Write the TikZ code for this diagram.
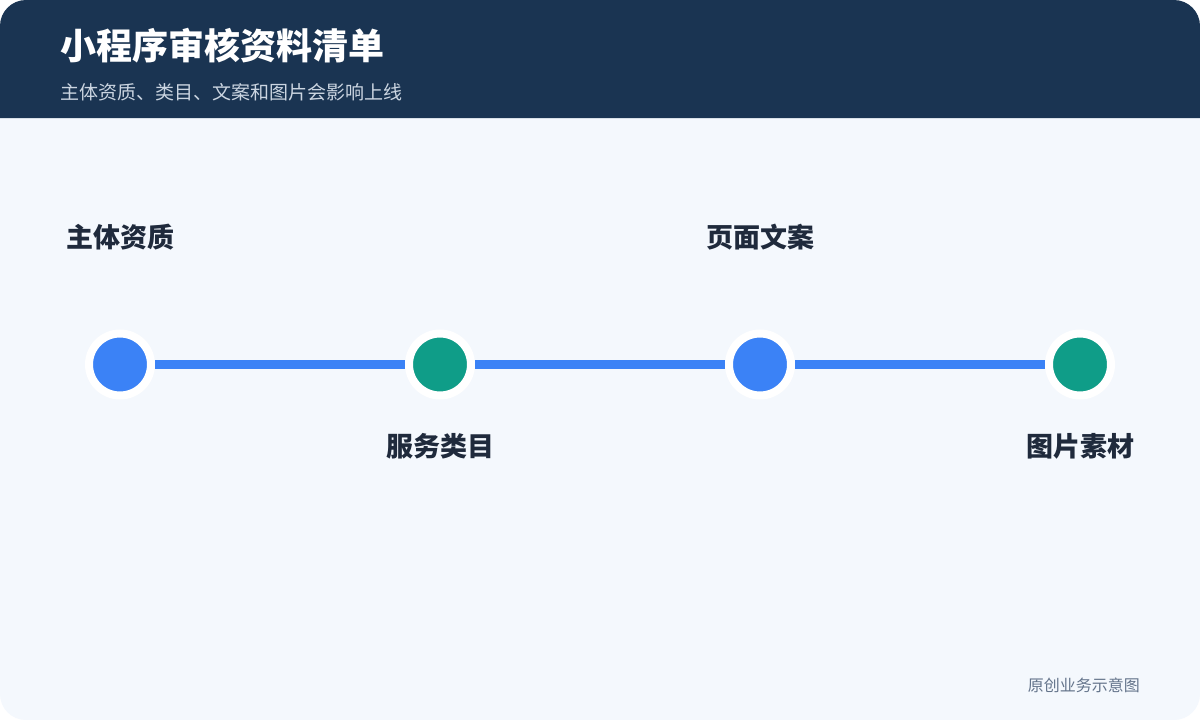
\documentclass[tikz,border=0pt]{standalone}
\usepackage{fontspec}
\setmainfont{Noto Sans CJK SC}
\usetikzlibrary{
  positioning
}
\definecolor{headnavy}{HTML}{1A3452}
\definecolor{cardbg}{HTML}{F4F8FD}
\definecolor{subgray}{HTML}{CBD5E1}
\definecolor{labelink}{HTML}{1F2A3C}
\definecolor{notegray}{HTML}{64748B}
\definecolor{stepblue}{HTML}{3B82F6}
\definecolor{stepteal}{HTML}{0F9D88}
\tikzset{
  % For the milestone dots on the track.
  milestone/.style={
    circle,
    draw=white,
    line width=8pt,
    minimum size=62pt,
    inner sep=0pt},
%
  % For the track between milestones.
  track/.style={
    draw=stepblue,
    line width=8.5pt},
%
  % For milestone captions.
  caption/.style={
    anchor=base,
    text=labelink,
    font=\fontsize{27}{31}\selectfont\bfseries,
    inner sep=0pt},
}

\begin{document}
\begin{tikzpicture}[x=1pt,y=-1pt]
  \useasboundingbox (0,0) rectangle (1200,720);
  \fill[white] (0,0) rectangle (1200,720);
  \fill[cardbg, rounded corners=26pt] (0,0) rectangle (1200,720);
  \fill[headnavy] (0,118) [rounded corners=26pt] -- (0,0) -- (1200,0)
    [sharp corners] -- (1200,118) -- cycle;

  \node[anchor=base west, inner sep=0pt, text=white,
    font=\fontsize{36}{42}\selectfont\bfseries] (title) at (60,59.5) {小程序审核资料清单};
  \node[anchor=base west, inner sep=0pt, text=subgray,
    font=\fontsize{19}{23}\selectfont] (subtitle) at (60,99.5) {主体资质、类目、文案和图片会影响上线};

  \node[milestone, fill=stepblue] (qual) at (120,364.5) {};
  \node[milestone, fill=stepteal] (cat) at (440,364.5) {};
  \node[milestone, fill=stepblue] (copy) at (760,364.5) {};
  \node[milestone, fill=stepteal] (img) at (1080,364.5) {};

  \draw[track] (qual) -- (cat);
  \draw[track] (cat) -- (copy);
  \draw[track] (copy) -- (img);

  \node[caption] (qualtext) at (120,247.5) {主体资质};
  \node[caption] (cattext) at (440,456.5) {服务类目};
  \node[caption] (copytext) at (760,247.5) {页面文案};
  \node[caption] (imgtext) at (1080,456.5) {图片素材};

  \node[anchor=base east, inner sep=0pt, text=notegray,
    font=\fontsize{16}{19}\selectfont] (note) at (1140,691) {原创业务示意图};
\end{tikzpicture}
\end{document}
